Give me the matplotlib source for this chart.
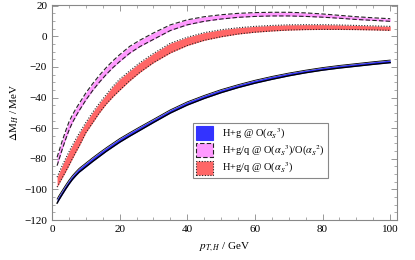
import matplotlib
matplotlib.use('Agg')
import matplotlib.pyplot as plt
from matplotlib.patches import Patch
from matplotlib.ticker import MultipleLocator

plt.rcParams['font.family'] = ['Liberation Serif', 'DejaVu Serif']
plt.rcParams['mathtext.fontset'] = 'stix'

# p_T,H values (GeV)
pt = [1.5, 2, 3, 4, 5, 6, 7, 8, 10, 12, 14, 16, 18, 20, 23, 26, 30, 35, 40,
      45, 50, 55, 60, 65, 70, 75, 80, 85, 90, 95, 100]

# H+g @ O(as^3): band lower / upper (MeV)
hg_lo = [-109, -107, -103.4, -99.9, -96.6, -93.6, -91.1, -88.8, -85.3, -81.8, -78.5, -75.2, -72.2, -69.2,
         -65.2, -61.4, -56.3, -50.1, -44.9, -40.6, -36.8, -33.5, -30.6, -28.1, -25.8, -23.8, -22.1,
         -20.7, -19.5, -18.3, -17.2]
hg_hi = [-106.3, -104.3, -100.8, -97.3, -94, -91.1, -88.6, -86.3, -82.8, -79.3, -76, -72.8, -69.8, -66.8,
         -62.9, -59.1, -54.2, -48, -42.8, -38.6, -34.8, -31.6, -28.7, -26.2, -24, -22.1, -20.4,
         -19, -17.8, -16.6, -15.5]

# H+g/q @ O(as^3)/O(as^2)
hgq_ratio_lo = [-84.5, -81, -74, -67.5, -61.5, -56.5, -52.5, -48.7, -41.7, -35.5, -30, -25, -20.5, -16.5,
                -11, -6.7, -2, 3.8, 7.5, 9.8, 11.3, 12.4, 13, 13.3, 13.3, 13, 12.5, 11.8, 11, 10.4, 9.8]
hgq_ratio_hi = [-79, -75.5, -68.5, -62, -56, -51.5, -47.5, -44, -37, -31, -25.5, -20.5, -16, -12,
                -6.5, -2.5, 2.2, 7.5, 10.8, 12.8, 14.1, 15, 15.5, 15.7, 15.7, 15.3, 14.6, 13.7, 12.8, 12.1, 11.5]

# H+g/q @ O(as^3)
hgq_lo = [-98.5, -96.5, -92.5, -88.5, -84.3, -80, -75.8, -71.8, -63, -56.5, -50, -44.3, -39.5, -35.2,
          -29, -23.5, -17.2, -10.8, -6, -2.6, -0.3, 1.5, 2.7, 3.5, 4.1, 4.4, 4.5, 4.5, 4.4, 4.2, 3.9]
hgq_hi = [-92, -89.5, -84.5, -80, -75.5, -71.3, -67.3, -63.5, -56.3, -49.7, -43.7, -38.2, -32.7, -28,
          -22.5, -17.2, -11.2, -4.5, -0.6, 2.4, 4.3, 5.6, 6.5, 7.1, 7.5, 7.6, 7.6, 7.4, 7.1, 6.8, 6.5]

labels = [r'H+g @ O($\alpha_S{}^3$)',
          r'H+g/q @ O($\alpha_S{}^3$)/O($\alpha_S{}^2$)',
          r'H+g/q @ O($\alpha_S{}^3$)']

blue = '#3333ff'
pink = '#ff99ff'
red = '#ff6666'
edge = '#222222'

fig = plt.figure(figsize=(4.15, 2.60), dpi=100)
ax = fig.add_axes([0.1253, 0.1538, 0.8313, 0.8272])

ax.fill_between(pt, hg_lo, hg_hi, color=blue, lw=0)
ax.plot(pt, hg_lo, color='black', lw=1.0)
ax.plot(pt, hg_hi, color='black', lw=0.6)

ax.fill_between(pt, hgq_ratio_lo, hgq_ratio_hi, color=pink, lw=0)
ax.plot(pt, hgq_ratio_lo, color=edge, lw=0.8, dashes=(4, 2))
ax.plot(pt, hgq_ratio_hi, color=edge, lw=0.8, dashes=(4, 2))

ax.fill_between(pt, hgq_lo, hgq_hi, color=red, lw=0)
ax.plot(pt, hgq_lo, color=edge, lw=0.8, dashes=(1, 1.5))
ax.plot(pt, hgq_hi, color=edge, lw=0.8, dashes=(1, 1.5))

ax.set_xlim(0, 102)
ax.set_ylim(-120, 20.5)
ax.xaxis.set_major_locator(MultipleLocator(20))
ax.xaxis.set_minor_locator(MultipleLocator(5))
ax.yaxis.set_major_locator(MultipleLocator(20))
ax.yaxis.set_minor_locator(MultipleLocator(5))
ax.tick_params(which='both', direction='in', top=True, right=True, color='#888888', labelsize=8)
ax.tick_params(which='major', length=4, width=0.6)
ax.tick_params(which='minor', length=2, width=0.5)
for s in ax.spines.values():
    s.set_color('#888888')
    s.set_linewidth(0.8)

ax.set_xlabel(r'$p_{T,H}$ / GeV', fontsize=8, labelpad=5)
ax.set_ylabel(r'$\Delta$M$_H$ / MeV', fontsize=8, labelpad=2)

handles = [Patch(facecolor=blue, edgecolor=blue, lw=0.8),
           Patch(facecolor=pink, edgecolor=edge, lw=0.8, linestyle=(0, (4, 2))),
           Patch(facecolor=red, edgecolor=edge, lw=0.8, linestyle=(0, (1, 1.5)))]
leg = ax.legend(handles, labels, loc='upper left', bbox_to_anchor=(0.409, 0.451),
                borderaxespad=0, fontsize=7.5, fancybox=False, framealpha=1,
                edgecolor='#888888', handlelength=1.65, handleheight=1.7,
                labelspacing=0.25, borderpad=0.3, handletextpad=0.8)
leg.get_frame().set_linewidth(0.8)

fig.savefig('out.png', dpi=100)
